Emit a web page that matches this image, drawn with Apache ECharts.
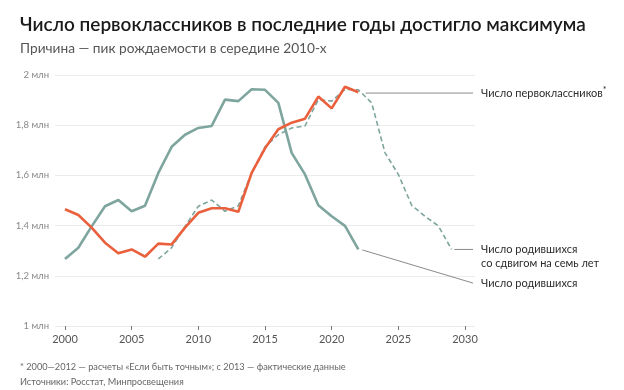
<!DOCTYPE html>
<html>
<head>
<meta charset="utf-8">
<script src="https://cdn.jsdelivr.net/npm/echarts@6/dist/echarts.min.js"></script>
<style>
html,body{margin:0;padding:0;background:#fff;}
#c{width:624px;height:390px;}
</style>
</head>
<body>
<div id="c"></div>
<script>
// ---- data ----
var years = [2000,2001,2002,2003,2004,2005,2006,2007,2008,2009,2010,2011,2012,2013,2014,2015,2016,2017,2018,2019,2020,2021,2022];
var births = [1.267,1.312,1.397,1.477,1.502,1.457,1.479,1.610,1.714,1.762,1.789,1.797,1.902,1.896,1.943,1.941,1.889,1.690,1.604,1.481,1.437,1.399,1.305];
var firstGraders = [1.465,1.442,1.392,1.332,1.290,1.305,1.276,1.328,1.325,1.392,1.451,1.469,1.469,1.455,1.610,1.708,1.784,1.810,1.826,1.914,1.867,1.953,1.931];
var shiftedYears = [2007,2008,2009,2010,2011,2012,2013,2014,2015,2016,2017,2018,2019,2020,2021,2022,2023,2024,2025,2026,2027,2028,2029];
var shiftedBirths = [1.267,1.312,1.397,1.477,1.502,1.457,1.479,1.610,1.714,1.762,1.789,1.797,1.902,1.896,1.943,1.941,1.889,1.690,1.604,1.481,1.437,1.399,1.305];
var xTicks = [2000,2005,2010,2015,2020,2025,2030];
var yTicks = [1,1.2,1.4,1.6,1.8,2];
var labelFirst = 'Число первоклассников';
var labelShifted = 'Число родившихся\nсо сдвигом на семь лет';
var labelBirths = 'Число родившихся';
var title = 'Число первоклассников в последние годы достигло максимума';
var subtitle = 'Причина — пик рождаемости в середине 2010-х';
var note1 = '* 2000—2012 — расчеты «Если быть точным»; с 2013 — фактические данные';
var note2 = 'Источники: Росстат, Минпросвещения';

function pairs(xs, ys){ return xs.map(function(x,i){ return [x, ys[i]]; }); }

var FONT = 'Lato, "Noto Sans", sans-serif';
var TEAL = '#7ea59e';
var ORANGE = '#ea5f3c';
var LEADER = '#8a8a8a';

var chart = echarts.init(document.getElementById('c'), null, {renderer:'canvas'});

function leader(points, text, opts){
  return {
    type:'line', data: points, symbol:'none', silent:true, z:1,
    lineStyle:{color:LEADER, width:1},
    endLabel: Object.assign({
      show:true, formatter: text, distance:8,
      color:'#2b2b2b', fontSize:11, fontFamily:FONT, lineHeight:14
    }, opts||{})
  };
}

chart.setOption({
  animation:false,
  textStyle:{fontFamily:FONT},
  title:[
    {text:title, left:15, top:10, textStyle:{fontSize:19, fontWeight:600, color:'#1a1a1a', fontFamily:FONT}},
    {text:subtitle, left:15, top:37, textStyle:{fontSize:13.7, fontWeight:400, color:'#555', fontFamily:FONT}},
    {text:note1, left:15, top:358, textStyle:{fontSize:9.2, fontWeight:400, color:'#666', fontFamily:FONT}},
    {text:note2, left:15, top:373, textStyle:{fontSize:9.2, fontWeight:400, color:'#666', fontFamily:FONT}}
  ],
  grid:{left:55, right:149, top:75, bottom:64, containLabel:false},
  xAxis:{
    type:'value', min:1999.25, max:2030.75,
    axisLine:{show:false},
    splitLine:{show:false},
    axisTick:{show:true, customValues:xTicks, length:4, lineStyle:{color:'#777', width:1}},
    axisLabel:{customValues:xTicks, color:'#555', fontSize:11, margin:8, fontFamily:FONT,
      formatter:function(v){return String(v);}}
  },
  yAxis:{
    type:'value', min:1, max:2, interval:0.2,
    axisLine:{show:false}, axisTick:{show:false},
    splitLine:{lineStyle:{color:'#ebebeb', width:1}},
    axisLabel:{color:'#888', fontSize:9.5, margin:6, fontFamily:FONT,
      formatter:function(v){
        var s = (Math.round(v*10)/10).toString().replace('.', ',');
        return s + ' млн';
      }}
  },
  series:[
    leader([[2022.55,1.928],[2030.6,1.928]], labelFirst + '{s|*}', {rich:{s:{fontSize:9, color:'#2b2b2b', padding:[0,0,6,0], fontFamily:FONT}}}),
    leader([[2029.2,1.305],[2030.6,1.305]], labelShifted, {verticalAlign:'top', offset:[0,-7]}),
    leader([[2022.3,1.303],[2030.6,1.171]], labelBirths),
    {type:'line', name:'births', data:pairs(years,births), symbol:'none', z:3,
      lineStyle:{color:TEAL, width:2.6}},
    {type:'line', name:'shifted', data:pairs(shiftedYears,shiftedBirths), symbol:'none', z:4,
      lineStyle:{color:TEAL, width:1.6, type:[5,3]}},
    {type:'line', name:'first', data:pairs(years,firstGraders), symbol:'none', z:5,
      lineStyle:{color:ORANGE, width:2.6}}
  ]
});
</script>
</body>
</html>
